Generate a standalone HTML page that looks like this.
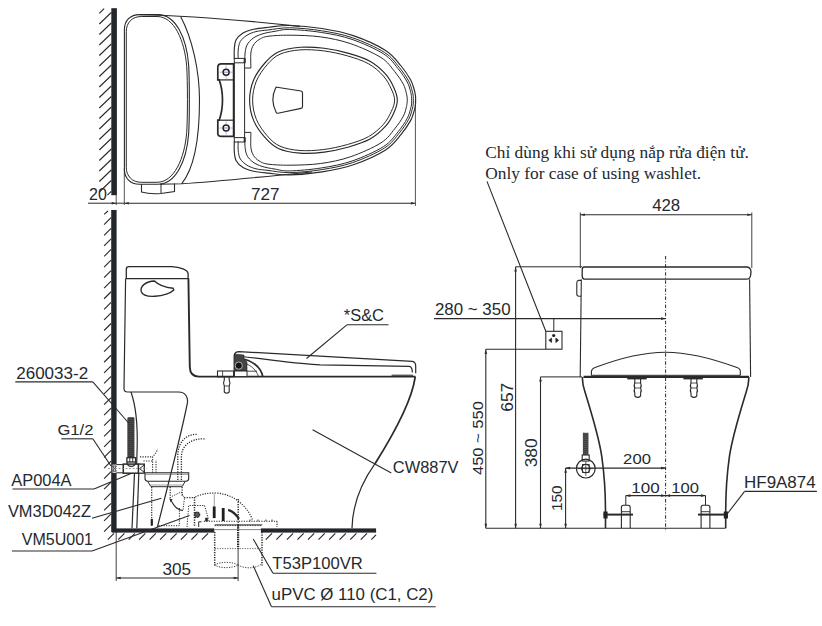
<!DOCTYPE html>
<html><head><meta charset="utf-8"><style>
html,body{margin:0;padding:0;background:#fff;}
svg{display:block;}
</style></head><body>
<svg width="822" height="626" viewBox="0 0 822 626" stroke-linecap="butt">
<rect x="111.3" y="8.2" width="5.6" height="187" fill="#23272c" stroke="none" stroke-width="1" />
<line x1="99.3" y1="13.4" x2="104.1" y2="8.6" stroke="#2a2a2a" stroke-width="1.1" />
<line x1="99.3" y1="24" x2="111.3" y2="12.5" stroke="#2a2a2a" stroke-width="1.1" />
<line x1="99.3" y1="34.5" x2="111.3" y2="23.0" stroke="#2a2a2a" stroke-width="1.1" />
<line x1="99.3" y1="45.0" x2="111.3" y2="33.5" stroke="#2a2a2a" stroke-width="1.1" />
<line x1="99.3" y1="55.5" x2="111.3" y2="44.0" stroke="#2a2a2a" stroke-width="1.1" />
<line x1="99.3" y1="66.0" x2="111.3" y2="54.5" stroke="#2a2a2a" stroke-width="1.1" />
<line x1="99.3" y1="76.5" x2="111.3" y2="65.0" stroke="#2a2a2a" stroke-width="1.1" />
<line x1="99.3" y1="87.0" x2="111.3" y2="75.5" stroke="#2a2a2a" stroke-width="1.1" />
<line x1="99.3" y1="97.5" x2="111.3" y2="86.0" stroke="#2a2a2a" stroke-width="1.1" />
<line x1="99.3" y1="108.0" x2="111.3" y2="96.5" stroke="#2a2a2a" stroke-width="1.1" />
<line x1="99.3" y1="118.5" x2="111.3" y2="107.0" stroke="#2a2a2a" stroke-width="1.1" />
<line x1="99.3" y1="129.0" x2="111.3" y2="117.5" stroke="#2a2a2a" stroke-width="1.1" />
<line x1="99.3" y1="139.5" x2="111.3" y2="128.0" stroke="#2a2a2a" stroke-width="1.1" />
<line x1="99.3" y1="150.0" x2="111.3" y2="138.5" stroke="#2a2a2a" stroke-width="1.1" />
<line x1="99.3" y1="160.5" x2="111.3" y2="149.0" stroke="#2a2a2a" stroke-width="1.1" />
<line x1="99.3" y1="171.0" x2="111.3" y2="159.5" stroke="#2a2a2a" stroke-width="1.1" />
<line x1="99.3" y1="181.5" x2="111.3" y2="170.0" stroke="#2a2a2a" stroke-width="1.1" />
<line x1="99.3" y1="192.0" x2="111.3" y2="180.5" stroke="#2a2a2a" stroke-width="1.1" />
<line x1="107.4" y1="195.2" x2="111.3" y2="191.4" stroke="#2a2a2a" stroke-width="1.1" />
<line x1="88" y1="203.2" x2="124" y2="203.2" stroke="#2a2a2a" stroke-width="1" />
<line x1="116.2" y1="195" x2="116.2" y2="205" stroke="#2a2a2a" stroke-width="0.8" />
<line x1="124.3" y1="168" x2="124.3" y2="205" stroke="#2a2a2a" stroke-width="0.8" />
<line x1="415.4" y1="100" x2="415.4" y2="206" stroke="#2a2a2a" stroke-width="0.8" />
<line x1="124.3" y1="203.2" x2="415.4" y2="203.2" stroke="#2a2a2a" stroke-width="1.1" />
<path d="M 124.4,29.6 C 124.4,20.6 130.4,14.6 139.4,14.6 L 158.0,14.6 C 176,14.6 186.6,38.6 188.6,64.6 C 189.6,78.6 189.6,120.19999999999999 188.6,134.2 C 186.6,160.2 176,184.2 158.0,184.2 L 139.4,184.2 C 130.4,184.2 124.4,178.2 124.4,169.2 Z" stroke="#2a2a2a" stroke-width="1.1" fill="none" />
<path d="M 126.30000000000001,31.5 C 126.30000000000001,22.5 132.3,16.5 141.3,16.5 L 157.05,16.5 C 174.1,16.5 184.7,40.5 186.7,66.5 C 187.7,80.5 187.7,118.29999999999998 186.7,132.29999999999998 C 184.7,158.29999999999998 174.1,182.29999999999998 157.05,182.29999999999998 L 141.3,182.29999999999998 C 132.3,182.29999999999998 126.30000000000001,176.29999999999998 126.30000000000001,167.29999999999998 Z" stroke="#2a2a2a" stroke-width="1" fill="none" />
<path d="M 139.7,14.7 Q 205.6,16.0 300,26.4" stroke="#2a2a2a" stroke-width="1.1" fill="none" />
<path d="M 180.6,16.5 C 192,38 199.5,70 199.5,100 C 199.5,130 197,165 181.6,183.8" stroke="#2a2a2a" stroke-width="1.1" fill="none" />
<path d="M 160,184.2 L 181.6,183.8 Q 219,181.3 312,172" stroke="#2a2a2a" stroke-width="1.1" fill="none" />
<path d="M 141.5,184.2 L 141.5,192 Q 150,194.5 161,193.5 L 174.5,191.5 L 174.5,183.5" stroke="#2a2a2a" stroke-width="1.1" fill="none" />
<line x1="161" y1="183.5" x2="161" y2="193.5" stroke="#2a2a2a" stroke-width="1" />
<path d="M 234.30,59.00 C 234.30,57.33 234.02,52.17 234.30,49.00 C 234.58,45.83 234.55,42.67 236.00,40.00 C 237.45,37.33 240.03,34.80 243.00,33.00 C 245.97,31.20 249.57,30.15 253.80,29.20 C 258.03,28.25 262.37,27.92 268.40,27.30 C 274.43,26.68 281.07,25.30 290.00,25.50 C 298.93,25.70 311.45,26.82 322.00,28.50 C 332.55,30.18 342.70,31.95 353.30,35.60 C 363.90,39.25 377.63,45.33 385.60,50.40 C 393.57,55.47 396.92,61.07 401.10,66.00 C 405.28,70.93 408.50,76.00 410.70,80.00 C 412.90,84.00 413.50,87.33 414.30,90.00 C 415.10,92.67 415.28,94.30 415.50,96.00 C 415.72,97.70 415.60,98.80 415.60,100.20 C 415.60,101.60 415.72,102.70 415.50,104.40 C 415.28,106.10 415.10,107.73 414.30,110.40 C 413.50,113.07 412.90,116.40 410.70,120.40 C 408.50,124.40 405.28,129.47 401.10,134.40 C 396.92,139.33 393.57,144.93 385.60,150.00 C 377.63,155.07 363.90,161.15 353.30,164.80 C 342.70,168.45 332.55,170.22 322.00,171.90 C 311.45,173.58 298.93,174.70 290.00,174.90 C 281.07,175.10 274.43,173.72 268.40,173.10 C 262.37,172.48 258.03,172.15 253.80,171.20 C 249.57,170.25 245.97,169.20 243.00,167.40 C 240.03,165.60 237.45,163.07 236.00,160.40 C 234.55,157.73 234.58,154.57 234.30,151.40 C 234.02,148.23 234.30,143.07 234.30,141.40 " stroke="#2a2a2a" stroke-width="1.15" fill="none" />
<path d="M 238.20,59.00 C 238.20,57.50 237.85,52.92 238.20,50.00 C 238.55,47.08 238.83,43.97 240.30,41.50 C 241.77,39.03 244.38,36.85 247.00,35.20 C 249.62,33.55 252.50,32.47 256.00,31.60 C 259.50,30.73 262.37,30.64 268.00,30.00 C 273.63,29.36 280.85,27.66 289.79,27.79 C 298.72,27.92 311.18,29.11 321.64,30.77 C 332.10,32.44 342.10,34.18 352.55,37.77 C 363.01,41.37 376.57,47.39 384.37,52.34 C 392.16,57.29 395.29,62.69 399.35,67.49 C 403.40,72.28 406.56,77.25 408.68,81.11 C 410.81,84.97 411.34,88.13 412.10,90.66 C 412.85,93.19 413.02,94.70 413.22,96.29 C 413.42,97.88 413.30,98.90 413.30,100.20 C 413.30,101.50 413.42,102.52 413.22,104.11 C 413.02,105.70 412.85,107.21 412.10,109.74 C 411.34,112.27 410.81,115.43 408.68,119.29 C 406.56,123.15 403.40,128.12 399.35,132.91 C 395.29,137.71 392.16,143.11 384.37,148.06 C 376.57,153.01 363.01,159.03 352.55,162.63 C 342.10,166.22 332.10,167.96 321.64,169.63 C 311.18,171.29 298.72,172.48 289.79,172.61 C 280.85,172.74 273.63,171.04 268.00,170.40 C 262.37,169.76 259.50,169.67 256.00,168.80 C 252.50,167.93 249.62,166.85 247.00,165.20 C 244.38,163.55 241.77,161.37 240.30,158.90 C 238.83,156.43 238.55,153.32 238.20,150.40 C 237.85,147.48 238.20,142.90 238.20,141.40 " stroke="#2a2a2a" stroke-width="1.0" fill="none" />
<path d="M 245.00,63.00 C 245.00,61.50 244.67,57.00 245.00,54.00 C 245.33,51.00 245.67,47.62 247.00,45.00 C 248.33,42.38 250.50,40.13 253.00,38.30 C 255.50,36.47 258.33,35.17 262.00,34.00 C 265.67,32.83 270.40,32.05 275.00,31.30 C 279.60,30.55 281.90,29.29 289.63,29.48 C 297.35,29.67 310.97,30.80 321.37,32.45 C 331.76,34.10 341.65,35.83 352.00,39.38 C 362.34,42.94 375.78,48.91 383.45,53.78 C 391.13,58.64 394.09,63.89 398.05,68.59 C 402.01,73.28 405.13,78.17 407.20,81.93 C 409.27,85.69 409.75,88.72 410.47,91.15 C 411.19,93.58 411.34,95.00 411.53,96.51 C 411.72,98.01 411.60,98.97 411.60,100.20 C 411.60,101.43 411.72,102.39 411.53,103.89 C 411.34,105.40 411.19,106.82 410.47,109.25 C 409.75,111.68 409.27,114.71 407.20,118.47 C 405.13,122.23 402.01,127.12 398.05,131.81 C 394.09,136.51 391.13,141.76 383.45,146.62 C 375.78,151.49 362.34,157.46 352.00,161.02 C 341.65,164.57 331.76,166.30 321.37,167.95 C 310.97,169.60 297.35,170.73 289.63,170.92 C 281.90,171.11 279.60,169.85 275.00,169.10 C 270.40,168.35 265.67,167.57 262.00,166.40 C 258.33,165.23 255.50,163.93 253.00,162.10 C 250.50,160.27 248.33,158.02 247.00,155.40 C 245.67,152.78 245.33,149.40 245.00,146.40 C 244.67,143.40 245.00,138.90 245.00,137.40 " stroke="#2a2a2a" stroke-width="1.0" fill="none" />
<path d="M 250.90,68.00 C 250.90,65.50 250.47,56.83 250.90,53.00 C 251.33,49.17 252.15,47.23 253.50,45.00 C 254.85,42.77 256.58,41.05 259.00,39.60 C 261.42,38.15 262.83,37.03 268.00,36.30 C 273.17,35.57 281.22,35.10 290.00,35.20 C 298.78,35.30 310.57,35.49 320.66,36.89 C 330.75,38.30 340.47,40.19 350.53,43.64 C 360.60,47.08 373.69,52.93 381.04,57.57 C 388.39,62.22 390.91,67.08 394.62,71.50 C 398.32,75.92 401.33,80.61 403.25,84.10 C 405.18,87.59 405.52,90.28 406.16,92.44 C 406.79,94.61 406.88,95.78 407.07,97.07 C 407.26,98.37 407.30,99.16 407.30,100.20 C 407.30,101.24 407.26,102.03 407.07,103.33 C 406.88,104.62 406.79,105.79 406.16,107.96 C 405.52,110.12 405.18,112.81 403.25,116.30 C 401.33,119.79 398.32,124.48 394.62,128.90 C 390.91,133.32 388.39,138.18 381.04,142.83 C 373.69,147.47 360.60,153.32 350.53,156.76 C 340.47,160.21 330.75,162.10 320.66,163.51 C 310.57,164.91 298.78,165.10 290.00,165.20 C 281.22,165.30 273.17,164.83 268.00,164.10 C 262.83,163.37 261.42,162.25 259.00,160.80 C 256.58,159.35 254.85,157.63 253.50,155.40 C 252.15,153.17 251.33,151.23 250.90,147.40 C 250.47,143.57 250.90,134.90 250.90,132.40 " stroke="#2a2a2a" stroke-width="1.0" fill="none" />
<path d="M 249.60,100.20 C 249.60,93.47 251.05,86.20 253.60,80.00 C 256.15,73.80 260.78,67.67 264.90,63.00 C 269.02,58.33 272.45,54.62 278.30,52.00 C 284.15,49.38 292.33,47.92 300.00,47.30 C 307.67,46.68 316.18,47.28 324.30,48.30 C 332.42,49.32 341.08,51.23 348.70,53.40 C 356.32,55.57 363.85,57.83 370.00,61.30 C 376.15,64.77 381.62,69.80 385.60,74.20 C 389.58,78.60 391.95,83.37 393.90,87.70 C 395.85,92.03 397.30,96.03 397.30,100.20 C 397.30,104.37 395.85,108.37 393.90,112.70 C 391.95,117.03 389.58,121.80 385.60,126.20 C 381.62,130.60 376.15,135.63 370.00,139.10 C 363.85,142.57 356.32,144.83 348.70,147.00 C 341.08,149.17 332.42,151.08 324.30,152.10 C 316.18,153.12 307.67,153.72 300.00,153.10 C 292.33,152.48 284.15,151.02 278.30,148.40 C 272.45,145.78 269.02,142.07 264.90,137.40 C 260.78,132.73 256.15,126.60 253.60,120.40 C 251.05,114.20 249.60,106.93 249.60,100.20 Z" stroke="#2a2a2a" stroke-width="1.15" fill="none" />
<path d="M 252.60,100.20 C 252.60,93.80 253.97,86.93 256.40,81.00 C 258.83,75.07 263.27,69.07 267.20,64.60 C 271.13,60.13 274.53,56.65 280.00,54.20 C 285.47,51.75 292.70,50.45 300.00,49.90 C 307.30,49.35 315.88,49.90 323.80,50.90 C 331.72,51.90 340.03,53.75 347.50,55.90 C 354.97,58.05 362.62,60.45 368.60,63.80 C 374.58,67.15 379.62,71.80 383.40,76.00 C 387.18,80.20 389.43,84.97 391.30,89.00 C 393.17,93.03 394.60,96.47 394.60,100.20 C 394.60,103.93 393.17,107.37 391.30,111.40 C 389.43,115.43 387.18,120.20 383.40,124.40 C 379.62,128.60 374.58,133.25 368.60,136.60 C 362.62,139.95 354.97,142.35 347.50,144.50 C 340.03,146.65 331.72,148.50 323.80,149.50 C 315.88,150.50 307.30,151.05 300.00,150.50 C 292.70,149.95 285.47,148.65 280.00,146.20 C 274.53,143.75 271.13,140.27 267.20,135.80 C 263.27,131.33 258.83,125.33 256.40,119.40 C 253.97,113.47 252.60,106.60 252.60,100.20 Z" stroke="#2a2a2a" stroke-width="1.0" fill="none" />
<path d="M 277,87.2 L 301,91 Q 302.5,91.3 302.5,93 L 302.5,106.5 Q 302.5,108.2 301,108.4 L 278,113.2 Q 276.5,113.4 276,112 Q 270,100 275.5,88.3 Q 276,87.1 277,87.2 Z" stroke="#2a2a2a" stroke-width="1.15" fill="none" />
<path d="M 217.8,67.3 Q 217.8,63.8 221.3,63.8 L 233.6,63.8 L 233.6,136.4 L 221.3,136.4 Q 217.8,136.4 217.8,132.9 L 217.8,120.2 L 219.2,120.2 Q 222.5,111 222.5,100.1 Q 222.5,89 219.2,79.9 L 217.8,79.9 Z" stroke="#2a2a2a" stroke-width="1.7" fill="none" />
<line x1="219" y1="79.9" x2="233.6" y2="79.9" stroke="#2a2a2a" stroke-width="1.2" />
<line x1="219" y1="120.2" x2="233.6" y2="120.2" stroke="#2a2a2a" stroke-width="1.2" />
<circle cx="226.1" cy="72.2" r="3.0" fill="none" stroke="#1c1f33" stroke-width="1.5"/>
<line x1="224" y1="72.2" x2="228.2" y2="72.2" stroke="#888" stroke-width="0.9" />
<line x1="219.5" y1="72.2" x2="222.5" y2="72.2" stroke="#888" stroke-width="0.6" />
<line x1="229.7" y1="72.2" x2="232.8" y2="72.2" stroke="#888" stroke-width="0.6" />
<line x1="226.1" y1="65.7" x2="226.1" y2="68.60000000000001" stroke="#888" stroke-width="0.6" />
<line x1="226.1" y1="75.8" x2="226.1" y2="78.7" stroke="#888" stroke-width="0.6" />
<circle cx="226.1" cy="128.0" r="3.0" fill="none" stroke="#1c1f33" stroke-width="1.5"/>
<line x1="224" y1="128.0" x2="228.2" y2="128.0" stroke="#888" stroke-width="0.9" />
<line x1="219.5" y1="128.0" x2="222.5" y2="128.0" stroke="#888" stroke-width="0.6" />
<line x1="229.7" y1="128.0" x2="232.8" y2="128.0" stroke="#888" stroke-width="0.6" />
<line x1="226.1" y1="121.5" x2="226.1" y2="124.4" stroke="#888" stroke-width="0.6" />
<line x1="226.1" y1="131.6" x2="226.1" y2="134.5" stroke="#888" stroke-width="0.6" />
<line x1="234.3" y1="63" x2="234.3" y2="137.4" stroke="#2a2a2a" stroke-width="1.0" />
<line x1="244.6" y1="63" x2="244.6" y2="137.4" stroke="#2a2a2a" stroke-width="1.0" />
<rect x="234.3" y="58.4" width="10.4" height="4.399999999999999" fill="none" stroke="#2a2a2a" stroke-width="1.0" />
<line x1="244.6" y1="58.4" x2="244.6" y2="62.8" stroke="#2a2a2a" stroke-width="1.8" />
<rect x="234.3" y="137.6" width="10.4" height="4.400000000000006" fill="none" stroke="#2a2a2a" stroke-width="1.0" />
<line x1="244.6" y1="137.6" x2="244.6" y2="142" stroke="#2a2a2a" stroke-width="1.8" />
<path d="M 244.6,68 L 250.9,68" stroke="#2a2a2a" stroke-width="1" fill="none" />
<path d="M 244.6,132.4 L 250.9,132.4" stroke="#2a2a2a" stroke-width="1" fill="none" />
<rect x="111.2" y="210" width="5.4" height="322.2" fill="#23272c" stroke="none" stroke-width="1" />
<line x1="104.1" y1="214.4" x2="108" y2="211" stroke="#2a2a2a" stroke-width="1.1" />
<line x1="104.1" y1="224.7" x2="111.1" y2="217.7" stroke="#2a2a2a" stroke-width="1.1" />
<line x1="104.1" y1="235.28" x2="111.1" y2="228.28" stroke="#2a2a2a" stroke-width="1.1" />
<line x1="104.1" y1="245.86" x2="111.1" y2="238.86" stroke="#2a2a2a" stroke-width="1.1" />
<line x1="104.1" y1="256.44" x2="111.1" y2="249.44" stroke="#2a2a2a" stroke-width="1.1" />
<line x1="104.1" y1="267.02" x2="111.1" y2="260.02" stroke="#2a2a2a" stroke-width="1.1" />
<line x1="104.1" y1="277.59999999999997" x2="111.1" y2="270.59999999999997" stroke="#2a2a2a" stroke-width="1.1" />
<line x1="104.1" y1="288.17999999999995" x2="111.1" y2="281.17999999999995" stroke="#2a2a2a" stroke-width="1.1" />
<line x1="104.1" y1="298.75999999999993" x2="111.1" y2="291.75999999999993" stroke="#2a2a2a" stroke-width="1.1" />
<line x1="104.1" y1="309.3399999999999" x2="111.1" y2="302.3399999999999" stroke="#2a2a2a" stroke-width="1.1" />
<line x1="104.1" y1="319.9199999999999" x2="111.1" y2="312.9199999999999" stroke="#2a2a2a" stroke-width="1.1" />
<line x1="104.1" y1="330.4999999999999" x2="111.1" y2="323.4999999999999" stroke="#2a2a2a" stroke-width="1.1" />
<line x1="104.1" y1="341.07999999999987" x2="111.1" y2="334.07999999999987" stroke="#2a2a2a" stroke-width="1.1" />
<line x1="104.1" y1="351.65999999999985" x2="111.1" y2="344.65999999999985" stroke="#2a2a2a" stroke-width="1.1" />
<line x1="104.1" y1="362.23999999999984" x2="111.1" y2="355.23999999999984" stroke="#2a2a2a" stroke-width="1.1" />
<line x1="104.1" y1="372.8199999999998" x2="111.1" y2="365.8199999999998" stroke="#2a2a2a" stroke-width="1.1" />
<line x1="104.1" y1="383.3999999999998" x2="111.1" y2="376.3999999999998" stroke="#2a2a2a" stroke-width="1.1" />
<line x1="104.1" y1="393.9799999999998" x2="111.1" y2="386.9799999999998" stroke="#2a2a2a" stroke-width="1.1" />
<line x1="104.1" y1="404.5599999999998" x2="111.1" y2="397.5599999999998" stroke="#2a2a2a" stroke-width="1.1" />
<line x1="104.1" y1="415.13999999999976" x2="111.1" y2="408.13999999999976" stroke="#2a2a2a" stroke-width="1.1" />
<line x1="104.1" y1="425.71999999999974" x2="111.1" y2="418.71999999999974" stroke="#2a2a2a" stroke-width="1.1" />
<line x1="104.1" y1="436.2999999999997" x2="111.1" y2="429.2999999999997" stroke="#2a2a2a" stroke-width="1.1" />
<line x1="104.1" y1="446.8799999999997" x2="111.1" y2="439.8799999999997" stroke="#2a2a2a" stroke-width="1.1" />
<line x1="104.1" y1="457.4599999999997" x2="111.1" y2="450.4599999999997" stroke="#2a2a2a" stroke-width="1.1" />
<line x1="104.1" y1="468.0399999999997" x2="111.1" y2="461.0399999999997" stroke="#2a2a2a" stroke-width="1.1" />
<line x1="104.1" y1="478.61999999999966" x2="111.1" y2="471.61999999999966" stroke="#2a2a2a" stroke-width="1.1" />
<line x1="104.1" y1="489.19999999999965" x2="111.1" y2="482.19999999999965" stroke="#2a2a2a" stroke-width="1.1" />
<line x1="104.1" y1="499.77999999999963" x2="111.1" y2="492.77999999999963" stroke="#2a2a2a" stroke-width="1.1" />
<line x1="104.1" y1="510.3599999999996" x2="111.1" y2="503.3599999999996" stroke="#2a2a2a" stroke-width="1.1" />
<line x1="104.1" y1="520.9399999999996" x2="111.1" y2="513.9399999999996" stroke="#2a2a2a" stroke-width="1.1" />
<line x1="104.1" y1="531.5199999999996" x2="111.1" y2="524.5199999999996" stroke="#2a2a2a" stroke-width="1.1" />
<rect x="112" y="528.4" width="102.3" height="4.2" fill="#23272c" stroke="none" stroke-width="1" />
<rect x="260.9" y="528.4" width="115.2" height="4.2" fill="#23272c" stroke="none" stroke-width="1" />
<line x1="107.8" y1="539.6" x2="114.0" y2="533.4" stroke="#2a2a2a" stroke-width="1.2" />
<line x1="118.25" y1="539.6" x2="124.45" y2="533.4" stroke="#2a2a2a" stroke-width="1.2" />
<line x1="128.7" y1="539.6" x2="134.89999999999998" y2="533.4" stroke="#2a2a2a" stroke-width="1.2" />
<line x1="139.15" y1="539.6" x2="145.35" y2="533.4" stroke="#2a2a2a" stroke-width="1.2" />
<line x1="149.6" y1="539.6" x2="155.79999999999998" y2="533.4" stroke="#2a2a2a" stroke-width="1.2" />
<line x1="160.05" y1="539.6" x2="166.25" y2="533.4" stroke="#2a2a2a" stroke-width="1.2" />
<line x1="170.5" y1="539.6" x2="176.7" y2="533.4" stroke="#2a2a2a" stroke-width="1.2" />
<line x1="180.95" y1="539.6" x2="187.14999999999998" y2="533.4" stroke="#2a2a2a" stroke-width="1.2" />
<line x1="191.39999999999998" y1="539.6" x2="197.59999999999997" y2="533.4" stroke="#2a2a2a" stroke-width="1.2" />
<line x1="201.85" y1="539.6" x2="208.04999999999998" y2="533.4" stroke="#2a2a2a" stroke-width="1.2" />
<line x1="265.8" y1="539.6" x2="272.0" y2="533.4" stroke="#2a2a2a" stroke-width="1.2" />
<line x1="276.35" y1="539.6" x2="282.55" y2="533.4" stroke="#2a2a2a" stroke-width="1.2" />
<line x1="286.90000000000003" y1="539.6" x2="293.1" y2="533.4" stroke="#2a2a2a" stroke-width="1.2" />
<line x1="297.45" y1="539.6" x2="303.65" y2="533.4" stroke="#2a2a2a" stroke-width="1.2" />
<line x1="308.0" y1="539.6" x2="314.2" y2="533.4" stroke="#2a2a2a" stroke-width="1.2" />
<line x1="318.55" y1="539.6" x2="324.75" y2="533.4" stroke="#2a2a2a" stroke-width="1.2" />
<line x1="329.1" y1="539.6" x2="335.3" y2="533.4" stroke="#2a2a2a" stroke-width="1.2" />
<line x1="339.65000000000003" y1="539.6" x2="345.85" y2="533.4" stroke="#2a2a2a" stroke-width="1.2" />
<line x1="350.20000000000005" y1="539.6" x2="356.40000000000003" y2="533.4" stroke="#2a2a2a" stroke-width="1.2" />
<line x1="360.75" y1="539.6" x2="366.95" y2="533.4" stroke="#2a2a2a" stroke-width="1.2" />
<line x1="371.3" y1="539.6" x2="376" y2="534.9" stroke="#2a2a2a" stroke-width="1.2" />
<path d="M 126.3,278.6 L 126.3,269.2 Q 126.3,266.6 129,266.6 L 171.5,266.6 C 180,267 188.1,270 188.1,274 L 188.1,278.6 Z" stroke="#2a2a2a" stroke-width="1.3" fill="none" />
<path d="M 125.6,278.6 L 124,388.5 Q 124,392 127.5,392 L 178.5,392 C 186,392 188.5,398 187.2,404 C 185,415 172,470 157.4,527" stroke="#2a2a2a" stroke-width="1.2" fill="none" />
<path d="M 188.4,278.2 L 189.8,367 Q 190,376.6 199,376.6 L 415.6,376.6" stroke="#2a2a2a" stroke-width="1.9" fill="none" />
<path d="M 154.5,281 C 146,281.5 139.8,286 141.2,291.5 C 142.8,296 150,296.6 155,296.3 C 163,295.8 171,293 173.8,290 L 173,288.2 C 165,287.5 159,285.5 154.5,281 Z" stroke="#2a2a2a" stroke-width="1.4" fill="none" />
<path d="M 131,392 C 135.5,405 137.6,425 137.2,445 C 137,455 136.8,463 136.5,466" stroke="#2a2a2a" stroke-width="1.2" fill="none" />
<line x1="134.5" y1="473.4" x2="132" y2="528.2" stroke="#2a2a2a" stroke-width="1.2" />
<line x1="138.8" y1="473.4" x2="136.8" y2="528.2" stroke="#2a2a2a" stroke-width="1.2" />
<path d="M 415.2,377 C 412,400 395,432 375,463.7" stroke="#2a2a2a" stroke-width="1.8" fill="none" />
<path d="M 375,463.7 C 362,482 352.5,505 352,528.2" stroke="#2a2a2a" stroke-width="1.2" fill="none" />
<path d="M 234.2,376.5 L 234.2,355.5 Q 234.6,351.8 239,351.6 L 412.3,361.4 Q 415.7,362 415.7,366 L 415.7,373.2" stroke="#2a2a2a" stroke-width="1.2" fill="none" />
<path d="M 241,356.5 C 270,359.5 300,364 320,364.8 C 360,365.6 390,366 409.5,366.3 Q 412.3,367 412.3,372.4" stroke="#2a2a2a" stroke-width="1.2" fill="none" />
<line x1="391.6" y1="375.3" x2="413" y2="375.3" stroke="#555" stroke-width="1.4" />
<path d="M 240,358.5 C 252,360 261,367 262.8,376.5" stroke="#2a2a2a" stroke-width="1.6" fill="none" />
<path d="M 238.5,361.8 C 249,363 256,369 258.5,376.5" stroke="#2a2a2a" stroke-width="0.8" fill="none" />
<path d="M 234.4,354 L 244,355 L 244,358.5 L 247,362 L 247,371 L 234.4,371 Z" stroke="#2a2a2a" stroke-width="0.6" fill="#444" />
<rect x="234.4" y="371" width="12.6" height="5.6" fill="#fff" stroke="#2a2a2a" stroke-width="1.0" />
<circle cx="238.8" cy="365.6" r="3.6" fill="#151515" stroke="#e8e8e8" stroke-width="0.7"/>
<line x1="247" y1="371.2" x2="257" y2="371.2" stroke="#444" stroke-width="1.0" />
<rect x="217.5" y="371" width="16.1" height="5.8" fill="none" stroke="#2a2a2a" stroke-width="1.1" />
<line x1="222.6" y1="371" x2="222.6" y2="376.8" stroke="#2a2a2a" stroke-width="0.8" />
<path d="M 224.3,377 L 224.3,380 Q 222.8,383 224.3,386 L 224.3,392 Q 226.7,394.5 229.2,392 L 229.2,386 Q 230.7,383 229.2,380 L 229.2,377" stroke="#2a2a2a" stroke-width="1.1" fill="none" />
<line x1="224.3" y1="386" x2="229.2" y2="386" stroke="#2a2a2a" stroke-width="0.8" />
<line x1="346.9" y1="324.8" x2="388.5" y2="324.8" stroke="#2a2a2a" stroke-width="1.1" />
<line x1="346.9" y1="324.8" x2="306.5" y2="358.5" stroke="#2a2a2a" stroke-width="1.1" />
<line x1="312.6" y1="429.8" x2="391.3" y2="473" stroke="#2a2a2a" stroke-width="1.1" />
<rect x="127.4" y="417.2" width="7.0" height="40.5" fill="#333" stroke="none" stroke-width="1" rx="1.2"/>
<line x1="127.4" y1="419" x2="134.4" y2="420" stroke="#6a6a6a" stroke-width="0.5" />
<line x1="127.4" y1="421" x2="134.4" y2="422" stroke="#6a6a6a" stroke-width="0.5" />
<line x1="127.4" y1="423" x2="134.4" y2="424" stroke="#6a6a6a" stroke-width="0.5" />
<line x1="127.4" y1="425" x2="134.4" y2="426" stroke="#6a6a6a" stroke-width="0.5" />
<line x1="127.4" y1="427" x2="134.4" y2="428" stroke="#6a6a6a" stroke-width="0.5" />
<line x1="127.4" y1="429" x2="134.4" y2="430" stroke="#6a6a6a" stroke-width="0.5" />
<line x1="127.4" y1="431" x2="134.4" y2="432" stroke="#6a6a6a" stroke-width="0.5" />
<line x1="127.4" y1="433" x2="134.4" y2="434" stroke="#6a6a6a" stroke-width="0.5" />
<line x1="127.4" y1="435" x2="134.4" y2="436" stroke="#6a6a6a" stroke-width="0.5" />
<line x1="127.4" y1="437" x2="134.4" y2="438" stroke="#6a6a6a" stroke-width="0.5" />
<line x1="127.4" y1="439" x2="134.4" y2="440" stroke="#6a6a6a" stroke-width="0.5" />
<line x1="127.4" y1="441" x2="134.4" y2="442" stroke="#6a6a6a" stroke-width="0.5" />
<line x1="127.4" y1="443" x2="134.4" y2="444" stroke="#6a6a6a" stroke-width="0.5" />
<line x1="127.4" y1="445" x2="134.4" y2="446" stroke="#6a6a6a" stroke-width="0.5" />
<line x1="127.4" y1="447" x2="134.4" y2="448" stroke="#6a6a6a" stroke-width="0.5" />
<line x1="127.4" y1="449" x2="134.4" y2="450" stroke="#6a6a6a" stroke-width="0.5" />
<line x1="127.4" y1="451" x2="134.4" y2="452" stroke="#6a6a6a" stroke-width="0.5" />
<line x1="127.4" y1="453" x2="134.4" y2="454" stroke="#6a6a6a" stroke-width="0.5" />
<line x1="127.4" y1="455" x2="134.4" y2="456" stroke="#6a6a6a" stroke-width="0.5" />
<rect x="126.9" y="457.7" width="8.7" height="4.3" fill="#fff" stroke="#2a2a2a" stroke-width="1.3" />
<line x1="129.8" y1="457.7" x2="129.8" y2="462" stroke="#2a2a2a" stroke-width="0.9" />
<line x1="132.7" y1="457.7" x2="132.7" y2="462" stroke="#2a2a2a" stroke-width="0.9" />
<rect x="112.5" y="464.6" width="10.8" height="8.2" fill="#fff" stroke="none" stroke-width="1" />
<line x1="116.3" y1="464.6" x2="123.3" y2="464.6" stroke="#2a2a2a" stroke-width="1.0" />
<line x1="116.3" y1="472.8" x2="123.3" y2="472.8" stroke="#2a2a2a" stroke-width="1.0" />
<path d="M 112.8,466 L 116.3,466 L 114.8,468.5 L 116.3,471.2 L 112.8,471.2 L 114.2,468.5 Z" stroke="#2a2a2a" stroke-width="0.9" fill="none" />
<rect x="123.3" y="464.1" width="15.2" height="9.1" fill="#fff" stroke="#2a2a2a" stroke-width="1.5" />
<rect x="138.5" y="464.1" width="5.8" height="9.1" fill="#fff" stroke="#2a2a2a" stroke-width="1.3" />
<path d="M 144.3,464.8 L 139.6,468.6 L 144.3,472.4" stroke="#2a2a2a" stroke-width="1.0" fill="none" />
<path d="M 126.9,462.2 A 4.35 4.2 0 0 0 135.6,462.2" stroke="#2a2a2a" stroke-width="1.3" fill="none" />
<line x1="108" y1="468.5" x2="147" y2="468.5" stroke="#777" stroke-width="0.7" stroke-dasharray="2,1.5"/>
<line x1="15.3" y1="381.9" x2="92.8" y2="381.9" stroke="#2a2a2a" stroke-width="1.1" />
<line x1="92.8" y1="381.9" x2="128.6" y2="423" stroke="#2a2a2a" stroke-width="1.1" />
<line x1="61.3" y1="438.8" x2="92.8" y2="438.8" stroke="#2a2a2a" stroke-width="1.1" />
<line x1="92.8" y1="438.8" x2="111" y2="466" stroke="#2a2a2a" stroke-width="1.1" />
<line x1="12.5" y1="489" x2="94" y2="489" stroke="#2a2a2a" stroke-width="1.1" />
<line x1="94" y1="489" x2="131" y2="473.6" stroke="#2a2a2a" stroke-width="1.1" />
<line x1="92" y1="518.3" x2="161.4" y2="498.2" stroke="#2a2a2a" stroke-width="1.1" />
<line x1="11.9" y1="551" x2="92" y2="551" stroke="#2a2a2a" stroke-width="1.1" />
<line x1="92" y1="551" x2="189.5" y2="515.5" stroke="#2a2a2a" stroke-width="1.1" />
<line x1="116.2" y1="532" x2="116.2" y2="581" stroke="#2a2a2a" stroke-width="0.9" />
<line x1="238.1" y1="549" x2="238.1" y2="581" stroke="#2a2a2a" stroke-width="0.9" />
<line x1="116.2" y1="578" x2="238.2" y2="578" stroke="#2a2a2a" stroke-width="1.1" />
<line x1="273" y1="573.2" x2="376.4" y2="573.2" stroke="#2a2a2a" stroke-width="1.1" />
<line x1="273" y1="573.2" x2="253.2" y2="538.9" stroke="#2a2a2a" stroke-width="1.1" />
<line x1="271.5" y1="606.7" x2="435.7" y2="606.7" stroke="#2a2a2a" stroke-width="1.1" />
<line x1="271.5" y1="606.7" x2="253.2" y2="565.6" stroke="#2a2a2a" stroke-width="1.1" />
<line x1="214.7" y1="532" x2="214.7" y2="565.5" stroke="#2a2a2a" stroke-width="1.5" stroke-dasharray="1.2,1.3"/>
<line x1="262" y1="532" x2="262" y2="565.5" stroke="#2a2a2a" stroke-width="1.5" stroke-dasharray="1.2,1.3"/>
<line x1="238.1" y1="525" x2="238.1" y2="549" stroke="#2a2a2a" stroke-width="2.2" stroke-dasharray="1.5,0.8"/>
<line x1="214.7" y1="548.6" x2="262" y2="548.6" stroke="#666" stroke-width="1.0" stroke-dasharray="1.2,1.3"/>
<line x1="214.5" y1="529.6" x2="261" y2="529.6" stroke="#666" stroke-width="0.8" />
<line x1="214.7" y1="525.6" x2="261" y2="525.6" stroke="#2a2a2a" stroke-width="0.9" stroke-dasharray="1.2,1.3"/>
<path d="M 214.7,565 C 220,561.5 232,561.5 238.1,565 C 232,568.5 220,568.5 214.7,565" stroke="#2a2a2a" stroke-width="0.9" fill="none" stroke-dasharray="1.2,1.3"/>
<path d="M 238.1,565 C 245,569 256,569 262,563.5" stroke="#2a2a2a" stroke-width="0.9" fill="none" stroke-dasharray="1.2,1.3"/>
<path d="M 145,472.8 L 188.7,472.8 L 188.7,478.6 Q 188.7,481.2 186,481.2 L 147.7,481.2 Q 145,481.2 145,478.6 Z" stroke="#2a2a2a" stroke-width="1.1" fill="none" />
<line x1="145" y1="474.2" x2="188.7" y2="474.2" stroke="#666" stroke-width="0.8" />
<path d="M 147.5,481.2 L 151,486.7 L 182,486.7 L 185.3,481.2" stroke="#2a2a2a" stroke-width="1.0" fill="none" />
<line x1="150" y1="485" x2="184" y2="485" stroke="#777" stroke-width="0.7" />
<line x1="151.7" y1="487" x2="151.7" y2="527" stroke="#2a2a2a" stroke-width="1.2" stroke-dasharray="1.2,1.3"/>
<rect x="150.7" y="519" width="2.2" height="6.5" fill="#222" stroke="none" stroke-width="1" />
<line x1="170.2" y1="487" x2="170.2" y2="500" stroke="#2a2a2a" stroke-width="1.2" stroke-dasharray="1.2,1.3"/>
<line x1="182.1" y1="487" x2="182.1" y2="496" stroke="#2a2a2a" stroke-width="1.2" stroke-dasharray="1.2,1.3"/>
<line x1="184.2" y1="497.6" x2="194.7" y2="497.6" stroke="#2a2a2a" stroke-width="1.1" stroke-dasharray="1.2,1.3"/>
<path d="M 177.8,480 L 177.8,456 C 177.8,443 185,434.3 197,434.3" stroke="#2a2a2a" stroke-width="1.3" fill="none" stroke-dasharray="1.2,1.3"/>
<path d="M 181.4,480 L 181.4,457 C 181.4,446 190,438.5 204.6,438.8" stroke="#2a2a2a" stroke-width="1.3" fill="none" stroke-dasharray="1.2,1.3"/>
<path d="M 152.6,472.8 L 152.6,457 L 156.5,452 L 157.5,449" stroke="#2a2a2a" stroke-width="1.1" fill="none" stroke-dasharray="1.2,1.3"/>
<path d="M 156,472.8 L 156,460" stroke="#2a2a2a" stroke-width="1.1" fill="none" stroke-dasharray="1.2,1.3"/>
<line x1="140" y1="456.9" x2="152.6" y2="456.9" stroke="#2a2a2a" stroke-width="1.1" stroke-dasharray="1.2,1.3"/>
<line x1="143.5" y1="461" x2="152.6" y2="461" stroke="#2a2a2a" stroke-width="1.1" stroke-dasharray="1.2,1.3"/>
<path d="M 170.2,500 L 172,502 C 174,506 178,510 182.8,510.6" stroke="#2a2a2a" stroke-width="1.1" fill="none" />
<path d="M 169.5,498.5 L 172.5,499.5 L 170.8,502.5 Z" fill="#222"/>
<path d="M 171.9,496.3 L 181.1,492.1 L 184.5,498 L 183,510" stroke="#2a2a2a" stroke-width="1.0" fill="none" stroke-dasharray="1.2,1.3"/>
<path d="M 158.5,525.7 L 179.4,525.7 L 179.4,508" stroke="#2a2a2a" stroke-width="1.0" fill="none" stroke-dasharray="1.2,1.3"/>
<path d="M 195.4,497.1 C 200,494.5 207,493 214.7,493 C 230,493 246,503 252.3,519.5" stroke="#2a2a2a" stroke-width="1.2" fill="none" stroke-dasharray="1.2,1.3"/>
<line x1="194.5" y1="497" x2="194.5" y2="527" stroke="#2a2a2a" stroke-width="1.5" stroke-dasharray="1.2,1.3"/>
<line x1="238.2" y1="499" x2="238.2" y2="528" stroke="#2a2a2a" stroke-width="1.5" stroke-dasharray="1.2,1.3"/>
<line x1="203.8" y1="521.2" x2="277" y2="521.2" stroke="#2a2a2a" stroke-width="1.1" stroke-dasharray="1.2,1.3"/>
<line x1="277" y1="521.2" x2="277" y2="527" stroke="#2a2a2a" stroke-width="1.1" stroke-dasharray="1.2,1.3"/>
<line x1="250" y1="519.5" x2="250" y2="521.2" stroke="#2a2a2a" stroke-width="0.9" />
<line x1="258" y1="519.5" x2="258" y2="521.2" stroke="#2a2a2a" stroke-width="0.9" />
<line x1="266" y1="519.5" x2="266" y2="521.2" stroke="#2a2a2a" stroke-width="0.9" />
<line x1="272" y1="519.5" x2="272" y2="521.2" stroke="#2a2a2a" stroke-width="0.9" />
<line x1="214.8" y1="524.9" x2="262.3" y2="524.9" stroke="#2a2a2a" stroke-width="1.0" />
<line x1="214.3" y1="493.4" x2="214.3" y2="506" stroke="#777" stroke-width="0.7" />
<rect x="212.8" y="506.4" width="2.8" height="11.7" fill="#1e1e1e" stroke="none" stroke-width="1" />
<rect x="221.8" y="508" width="2.8" height="13" fill="#1e1e1e" stroke="none" stroke-width="1" />
<path d="M 228.2,509.8 Q 235,512 238.9,518.9" stroke="#2a2a2a" stroke-width="2.4" fill="none" />
<path d="M 187,527 L 188.7,505.5 L 204.6,505.5 L 208.8,520.6" stroke="#2a2a2a" stroke-width="1.0" fill="none" stroke-dasharray="1.2,1.3"/>
<circle cx="197" cy="514.8" r="2.7" fill="#555" stroke="#222" stroke-width="1.2" stroke-dasharray="1,0.7"/>
<rect x="205.2" y="517.8" width="2.6" height="3.6" fill="#222" stroke="none" stroke-width="1" />
<path d="M 198.7,527 L 198.7,521.8 L 201.5,521.8" stroke="#2a2a2a" stroke-width="1.0" fill="none" />
<line x1="580.3" y1="214.8" x2="751.8" y2="214.8" stroke="#2a2a2a" stroke-width="1.1" />
<line x1="580.3" y1="212.5" x2="580.3" y2="268" stroke="#2a2a2a" stroke-width="0.9" />
<line x1="751.8" y1="212.5" x2="751.8" y2="268" stroke="#2a2a2a" stroke-width="0.9" />
<line x1="515.6" y1="266.8" x2="582" y2="266.8" stroke="#2a2a2a" stroke-width="1.0" />
<path d="M 584,267 L 747,267 Q 751,267.5 751,272 L 750.6,275.5 Q 750,279.2 746.5,279.2 L 584.5,279.2 Q 582.2,279 582.2,276 L 582.2,270 Q 582.2,267 584,267 Z" stroke="#2a2a2a" stroke-width="1.3" fill="none" />
<line x1="581.3" y1="279.2" x2="580.2" y2="377" stroke="#2a2a2a" stroke-width="1.1" />
<line x1="749.6" y1="279.2" x2="750.6" y2="377" stroke="#2a2a2a" stroke-width="1.1" />
<path d="M 581,280.4 L 578.5,280.4 Q 576.8,280.6 576.8,283 L 576.8,294 Q 576.8,296.2 579,296.2 L 581,296.2" stroke="#2a2a2a" stroke-width="1.1" fill="none" />
<line x1="665.6" y1="256" x2="665.6" y2="531.5" stroke="#2a2a2a" stroke-width="1.0" stroke-dasharray="3.5,1.8,1,1.8"/>
<line x1="434" y1="318.6" x2="665.6" y2="318.6" stroke="#2a2a2a" stroke-width="1.1" />
<line x1="515.6" y1="266.8" x2="515.6" y2="528.3" stroke="#2a2a2a" stroke-width="1.1" />
<rect x="545.8" y="331.3" width="16.2" height="17.9" fill="none" stroke="#2a2a2a" stroke-width="1.1" />
<line x1="553.8" y1="318.6" x2="553.8" y2="331.3" stroke="#2a2a2a" stroke-width="1.0" />
<circle cx="553.7" cy="335.5" r="1.6" fill="#1e1e1e"/>
<polygon points="548.8,340.3 551.6,338 551.6,342.6" fill="#1e1e1e" stroke="#1e1e1e" stroke-width="0.6" stroke-linejoin="round"/>
<polygon points="558.6,340.3 555.8,338 555.8,342.6" fill="#1e1e1e" stroke="#1e1e1e" stroke-width="0.6" stroke-linejoin="round"/>
<line x1="487" y1="181.4" x2="545.8" y2="331.3" stroke="#2a2a2a" stroke-width="1.1" />
<line x1="485.8" y1="349.2" x2="545.8" y2="349.2" stroke="#2a2a2a" stroke-width="1.1" />
<line x1="485.8" y1="349.2" x2="485.8" y2="528.3" stroke="#2a2a2a" stroke-width="1.1" />
<line x1="540.5" y1="376.9" x2="582" y2="376.9" stroke="#2a2a2a" stroke-width="1.0" />
<line x1="540.5" y1="376.9" x2="540.5" y2="528.3" stroke="#2a2a2a" stroke-width="1.1" />
<line x1="485.8" y1="528.3" x2="725.5" y2="528.3" stroke="#2a2a2a" stroke-width="1.1" />
<path d="M 591.4,375.5 L 591.4,371.5 Q 591.8,368.5 595,367.5 C 620,358 645,352.2 665.6,352.2 C 686,352.2 711,358 737,367.5 Q 740.3,368.5 740.3,371.5 L 740.3,375.5" stroke="#2a2a2a" stroke-width="1.1" fill="none" />
<line x1="591.4" y1="375.3" x2="740.3" y2="375.3" stroke="#2a2a2a" stroke-width="1.0" />
<path d="M 583.5,376.8 L 749,376.8" stroke="#2a2a2a" stroke-width="2.2" fill="none" />
<path d="M 627.2,378.6 L 646.7,378.6" stroke="#2a2a2a" stroke-width="1.6" fill="none" />
<path d="M 634.8000000000001,378.4 L 634.8000000000001,383 Q 633.5,385.5 634.8000000000001,388 Q 633.5,390.5 634.8000000000001,393 L 634.8000000000001,396 Q 637.7,398.8 640.6,396 L 640.6,393 Q 641.9000000000001,390.5 640.6,388 Q 641.9000000000001,385.5 640.6,383 L 640.6,378.4" stroke="#2a2a2a" stroke-width="1.1" fill="none" />
<line x1="634.3000000000001" y1="388" x2="641.1" y2="388" stroke="#2a2a2a" stroke-width="0.8" />
<line x1="634.3000000000001" y1="383" x2="641.1" y2="383" stroke="#2a2a2a" stroke-width="0.8" />
<path d="M 683.4,378.6 L 702.9,378.6" stroke="#2a2a2a" stroke-width="1.6" fill="none" />
<path d="M 691.0,378.4 L 691.0,383 Q 689.6999999999999,385.5 691.0,388 Q 689.6999999999999,390.5 691.0,393 L 691.0,396 Q 693.9,398.8 696.8,396 L 696.8,393 Q 698.1,390.5 696.8,388 Q 698.1,385.5 696.8,383 L 696.8,378.4" stroke="#2a2a2a" stroke-width="1.1" fill="none" />
<line x1="690.5" y1="388" x2="697.3" y2="388" stroke="#2a2a2a" stroke-width="0.8" />
<line x1="690.5" y1="383" x2="697.3" y2="383" stroke="#2a2a2a" stroke-width="0.8" />
<path d="M 582.5,377 C 582,383 583,386 585,392 C 592,415 599,437 601.8,456.7 C 604.5,476 605.5,495 605.5,512 L 605.5,528.3" stroke="#2a2a2a" stroke-width="1.6" fill="none" />
<path d="M 748.7,377 C 749.2,383 748.2,386 746.2,392 C 739.2,415 732.2,437 729.4,456.7 C 726.7,476 725.7,495 725.7,512 L 725.7,528.3" stroke="#2a2a2a" stroke-width="1.6" fill="none" />
<rect x="582.9" y="432.8" width="5.5" height="22.1" fill="#3a3a3a" stroke="none" stroke-width="1" />
<line x1="582.9" y1="433" x2="588.4" y2="434" stroke="#777" stroke-width="0.5" />
<line x1="582.9" y1="435" x2="588.4" y2="436" stroke="#777" stroke-width="0.5" />
<line x1="582.9" y1="437" x2="588.4" y2="438" stroke="#777" stroke-width="0.5" />
<line x1="582.9" y1="439" x2="588.4" y2="440" stroke="#777" stroke-width="0.5" />
<line x1="582.9" y1="441" x2="588.4" y2="442" stroke="#777" stroke-width="0.5" />
<line x1="582.9" y1="443" x2="588.4" y2="444" stroke="#777" stroke-width="0.5" />
<line x1="582.9" y1="445" x2="588.4" y2="446" stroke="#777" stroke-width="0.5" />
<line x1="582.9" y1="447" x2="588.4" y2="448" stroke="#777" stroke-width="0.5" />
<line x1="582.9" y1="449" x2="588.4" y2="450" stroke="#777" stroke-width="0.5" />
<line x1="582.9" y1="451" x2="588.4" y2="452" stroke="#777" stroke-width="0.5" />
<line x1="582.9" y1="453" x2="588.4" y2="454" stroke="#777" stroke-width="0.5" />
<rect x="582.2" y="455" width="7" height="6" fill="none" stroke="#2a2a2a" stroke-width="1.1" />
<circle cx="585.8" cy="468.6" r="9.4" fill="none" stroke="#2a2a2a" stroke-width="1.2"/>
<circle cx="585.8" cy="468.6" r="4.2" fill="none" stroke="#2a2a2a" stroke-width="1.1"/>
<line x1="578" y1="468.6" x2="593.5" y2="468.6" stroke="#2a2a2a" stroke-width="0.7" />
<line x1="585.8" y1="461" x2="585.8" y2="476" stroke="#2a2a2a" stroke-width="0.7" />
<rect x="582.5" y="464.5" width="6.6" height="8" fill="none" stroke="#2a2a2a" stroke-width="0.9" />
<line x1="565.6" y1="468.1" x2="665.6" y2="468.1" stroke="#2a2a2a" stroke-width="1.1" />
<line x1="565.6" y1="468.1" x2="565.6" y2="528.3" stroke="#2a2a2a" stroke-width="1.1" />
<path d="M 621.4,528.3 L 621.4,507.5 Q 621.4,505.3 623.3,505.3 L 628.3,505.3 Q 630.1999999999999,505.3 630.1999999999999,507.5 L 630.1999999999999,528.3" stroke="#2a2a2a" stroke-width="1.1" fill="none" />
<line x1="621.4" y1="511.7" x2="630.1999999999999" y2="511.7" stroke="#2a2a2a" stroke-width="0.9" />
<line x1="625.8" y1="495.6" x2="625.8" y2="505.3" stroke="#2a2a2a" stroke-width="1.0" />
<path d="M 701.1,528.3 L 701.1,507.5 Q 701.1,505.3 703.0,505.3 L 708.0,505.3 Q 709.9,505.3 709.9,507.5 L 709.9,528.3" stroke="#2a2a2a" stroke-width="1.1" fill="none" />
<line x1="701.1" y1="511.7" x2="709.9" y2="511.7" stroke="#2a2a2a" stroke-width="0.9" />
<line x1="705.5" y1="495.6" x2="705.5" y2="505.3" stroke="#2a2a2a" stroke-width="1.0" />
<path d="M 603.6,514.6 L 633,514.6" stroke="#2a2a2a" stroke-width="2.0" fill="none" />
<rect x="603.4" y="511.5" width="4.2" height="7" fill="#222" stroke="none" stroke-width="1" />
<path d="M 698,514.6 L 727.5,514.6" stroke="#2a2a2a" stroke-width="2.0" fill="none" />
<rect x="723.8" y="511.5" width="4.2" height="7" fill="#222" stroke="none" stroke-width="1" />
<line x1="625.8" y1="495.6" x2="705.5" y2="495.6" stroke="#2a2a2a" stroke-width="1.1" />
<line x1="744.6" y1="491.4" x2="816.9" y2="491.4" stroke="#2a2a2a" stroke-width="1.1" />
<line x1="744.6" y1="491.4" x2="726" y2="515.5" stroke="#2a2a2a" stroke-width="1.1" />
<polygon points="124.3,203.2 128.8,201.89999999999998 128.8,204.5" fill="#2a2a2a"/>
<polygon points="415.4,203.2 410.9,201.89999999999998 410.9,204.5" fill="#2a2a2a"/>
<polygon points="116.2,203.2 111.7,201.89999999999998 111.7,204.5" fill="#2a2a2a"/>
<polygon points="116.2,578 120.7,576.7 120.7,579.3" fill="#2a2a2a"/>
<polygon points="238.2,578 233.7,576.7 233.7,579.3" fill="#2a2a2a"/>
<polygon points="580.3,214.8 584.8,213.5 584.8,216.10000000000002" fill="#2a2a2a"/>
<polygon points="751.8,214.8 747.3,213.5 747.3,216.10000000000002" fill="#2a2a2a"/>
<polygon points="665.6,318.6 661.1,317.3 661.1,319.90000000000003" fill="#2a2a2a"/>
<polygon points="515.6,267 514.3000000000001,271.5 516.9,271.5" fill="#2a2a2a"/>
<polygon points="515.6,528.3 514.3000000000001,523.8 516.9,523.8" fill="#2a2a2a"/>
<polygon points="485.8,349.4 484.5,353.9 487.1,353.9" fill="#2a2a2a"/>
<polygon points="485.8,528.3 484.5,523.8 487.1,523.8" fill="#2a2a2a"/>
<polygon points="540.5,377 539.2,381.5 541.8,381.5" fill="#2a2a2a"/>
<polygon points="540.5,528.3 539.2,523.8 541.8,523.8" fill="#2a2a2a"/>
<polygon points="565.6,468.2 564.3000000000001,472.7 566.9,472.7" fill="#2a2a2a"/>
<polygon points="565.6,528.3 564.3000000000001,523.8 566.9,523.8" fill="#2a2a2a"/>
<polygon points="565.6,468.1 570.1,466.8 570.1,469.40000000000003" fill="#2a2a2a"/>
<polygon points="665.6,468.1 661.1,466.8 661.1,469.40000000000003" fill="#2a2a2a"/>
<polygon points="625.8,495.6 630.3,494.3 630.3,496.90000000000003" fill="#2a2a2a"/>
<polygon points="665.6,495.6 661.1,494.3 661.1,496.90000000000003" fill="#2a2a2a"/>
<polygon points="665.6,495.6 670.1,494.3 670.1,496.90000000000003" fill="#2a2a2a"/>
<polygon points="705.5,495.6 701.0,494.3 701.0,496.90000000000003" fill="#2a2a2a"/>
<text transform="matrix(1.0000 0 0 1.0174 89.00 199.55)" font-family="Liberation Sans" font-size="16" fill="#25292e">20</text>
<text transform="matrix(1.0693 0 0 1.0667 250.90 199.90)" font-family="Liberation Sans" font-size="16" fill="#25292e">727</text>
<text transform="matrix(1.0301 0 0 1.0522 343.74 320.94)" font-family="Liberation Sans" font-size="16" fill="#25292e">*S&amp;C</text>
<text transform="matrix(1.0261 0 0 1.0522 392.83 472.64)" font-family="Liberation Sans" font-size="16" fill="#25292e">CW887V</text>
<text transform="matrix(1.0652 0 0 1.0174 16.20 378.95)" font-family="Liberation Sans" font-size="16" fill="#25292e">260033-2</text>
<text transform="matrix(1.0376 0 0 0.9532 57.42 434.96)" font-family="Liberation Sans" font-size="16" fill="#25292e">G1/2</text>
<text transform="matrix(1.0264 0 0 1.0000 11.30 485.75)" font-family="Liberation Sans" font-size="16" fill="#25292e">AP004A</text>
<text transform="matrix(1.0273 0 0 0.9913 7.90 517.45)" font-family="Liberation Sans" font-size="16" fill="#25292e">VM3D042Z</text>
<text transform="matrix(1.0036 0 0 0.9913 21.70 545.45)" font-family="Liberation Sans" font-size="16" fill="#25292e">VM5U001</text>
<text transform="matrix(1.0733 0 0 1.0522 162.40 574.74)" font-family="Liberation Sans" font-size="16" fill="#25292e">305</text>
<text transform="matrix(1.0384 0 0 1.0000 272.34 568.75)" font-family="Liberation Sans" font-size="16" fill="#25292e">T53P100VR</text>
<text transform="matrix(1.0541 0 0 0.9966 271.55 600.06)" font-family="Liberation Sans" font-size="16" fill="#25292e">uPVC Ø 110 (C1, C2)</text>
<text transform="matrix(1.0524 0 0 1.0261 652.14 210.64)" font-family="Liberation Sans" font-size="16" fill="#25292e">428</text>
<text transform="matrix(1.0562 0 0 1.0522 434.91 314.94)" font-family="Liberation Sans" font-size="16" fill="#25292e">280 ~ 350</text>
<text transform="translate(513.05 411.71) rotate(-90) matrix(1.0851 0 0 1.0087 0 0)" font-family="Liberation Sans" font-size="16" fill="#25292e">657</text>
<text transform="translate(483.17 475.06) rotate(-90) matrix(1.0332 0 0 0.9391 0 0)" font-family="Liberation Sans" font-size="16" fill="#25292e">450 ~ 550</text>
<text transform="translate(537.15 467.31) rotate(-90) matrix(1.0851 0 0 1.0087 0 0)" font-family="Liberation Sans" font-size="16" fill="#25292e">380</text>
<text transform="translate(562.38 511.11) rotate(-90) matrix(0.9657 0 0 0.8957 0 0)" font-family="Liberation Sans" font-size="16" fill="#25292e">150</text>
<text transform="matrix(1.0416 0 0 0.9304 623.12 464.27)" font-family="Liberation Sans" font-size="16" fill="#25292e">200</text>
<text transform="matrix(1.0626 0 0 0.9391 631.37 492.57)" font-family="Liberation Sans" font-size="16" fill="#25292e">100</text>
<text transform="matrix(1.0384 0 0 0.9391 671.20 492.57)" font-family="Liberation Sans" font-size="16" fill="#25292e">100</text>
<text transform="matrix(1.0586 0 0 0.9739 744.08 488.26)" font-family="Liberation Sans" font-size="16" fill="#25292e">HF9A874</text>
<text transform="matrix(1.084 0 0 1.10 485.2 158)" font-family="Liberation Serif" font-size="16" fill="#25292e">Chỉ dùng khi sử dụng nắp rửa điện tử.</text>
<text transform="matrix(1.085 0 0 1.10 485.2 178.6)" font-family="Liberation Serif" font-size="16" fill="#25292e">Only for case of using washlet.</text>
</svg>
</body></html>
